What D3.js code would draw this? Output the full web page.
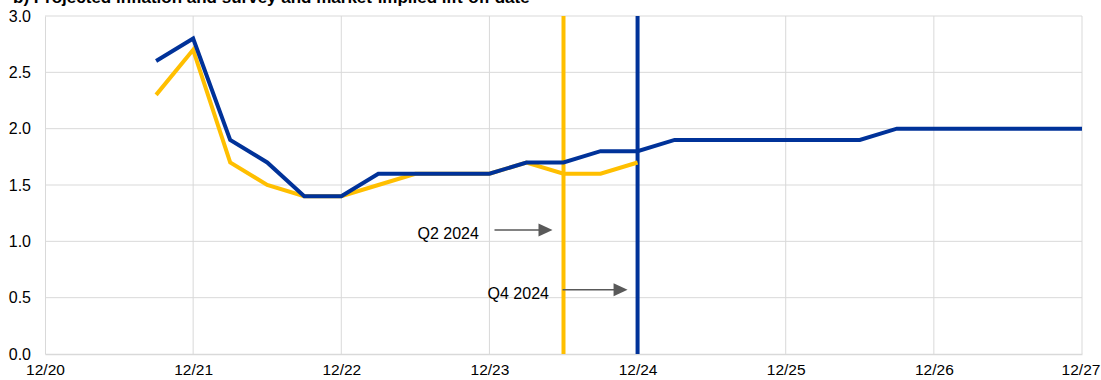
<!DOCTYPE html>
<html><head><meta charset="utf-8">
<script src="https://cdn.jsdelivr.net/npm/d3@7"></script>
<style>body{margin:0;background:#fff;} svg{display:block;font-family:Arial,"Liberation Sans",sans-serif;}</style>
</head><body>
<svg id="c" width="1101" height="380"></svg>
<script>
const title = "b) Projected inflation and survey and market-implied lift-off date";
const xTickLabels = ["12/20","12/21","12/22","12/23","12/24","12/25","12/26","12/27"];
const yTicks = [0,0.5,1,1.5,2,2.5,3];
const blueQuarters = ["Q3 2021","Q4 2021","Q1 2022","Q2 2022","Q3 2022","Q4 2022","Q1 2023","Q2 2023","Q3 2023","Q4 2023","Q1 2024","Q2 2024","Q3 2024","Q4 2024","Q1 2025","Q2 2025","Q3 2025","Q4 2025","Q1 2026","Q2 2026","Q3 2026","Q4 2026","Q1 2027","Q2 2027","Q3 2027","Q4 2027"];
const blueValues = [2.6,2.8,1.9,1.7,1.4,1.4,1.6,1.6,1.6,1.6,1.7,1.7,1.8,1.8,1.9,1.9,1.9,1.9,1.9,1.9,2.0,2.0,2.0,2.0,2.0,2.0];
const yellowQuarters = ["Q3 2021","Q4 2021","Q1 2022","Q2 2022","Q3 2022","Q4 2022","Q1 2023","Q2 2023","Q3 2023","Q4 2023","Q1 2024","Q2 2024","Q3 2024","Q4 2024"];
const yellowValues = [2.3,2.7,1.7,1.5,1.4,1.4,1.5,1.6,1.6,1.6,1.7,1.6,1.6,1.7];
const liftoffs = [{label:"Q2 2024", q:"Q2 2024", color:"#ffbf00"},{label:"Q4 2024", q:"Q4 2024", color:"#003299"}];

const qi = s => { const [q,y] = s.split(" "); return (+y-2020)*4 + (+q[1]) - 4; };

const svg = d3.select("#c");
const m = {l:45, r:1082, t:16, b:354};
const x = d3.scaleLinear().domain([0,28]).range([m.l,m.r]);
const y = d3.scaleLinear().domain([0,3]).range([m.b,m.t]);

// grid
svg.append("g").selectAll("line").data(yTicks.filter(d=>d>0)).join("line")
  .attr("x1",m.l).attr("x2",m.r).attr("y1",d=>y(d)).attr("y2",d=>y(d))
  .attr("stroke","#d9d9d9").attr("stroke-width",1);
svg.append("g").selectAll("line").data(d3.range(1,8)).join("line")
  .attr("x1",d=>x(d*4)).attr("x2",d=>x(d*4)).attr("y1",m.t).attr("y2",m.b)
  .attr("stroke","#d9d9d9").attr("stroke-width",1);

// axes
const yAxis = d3.axisLeft(y).tickValues(yTicks).tickFormat(d3.format(".1f")).tickSize(0).tickPadding(14);
const gy = svg.append("g").attr("transform",`translate(${m.l},0)`).call(yAxis);
gy.select(".domain").attr("stroke","#d9d9d9");
gy.selectAll("text").attr("font-size",16).attr("fill","#000").attr("font-family","Arial, Liberation Sans, sans-serif");

const xAxis = d3.axisBottom(x).tickValues(d3.range(0,8).map(i=>i*4)).tickFormat((d,i)=>xTickLabels[i]).tickSize(0).tickPadding(10);
const gx = svg.append("g").attr("transform",`translate(0,${m.b})`).call(xAxis);
gx.select(".domain").attr("stroke","#d9d9d9").attr("stroke-width",1.5);
gx.selectAll("text").attr("font-size",15.5).attr("fill","#000").attr("font-family","Arial, Liberation Sans, sans-serif")
  .attr("dx",(d,i)=> i===7 ? -1.5 : 0);

// lift-off vertical lines
svg.append("g").selectAll("line").data(liftoffs).join("line")
  .attr("x1",d=>x(qi(d.q))).attr("x2",d=>x(qi(d.q))).attr("y1",m.t).attr("y2",m.b)
  .attr("stroke",d=>d.color).attr("stroke-width",4);

// series
const line = d3.line().x(d=>x(d[0])).y(d=>y(d[1]));
svg.append("path").datum(yellowQuarters.map((q,i)=>[qi(q),yellowValues[i]]))
  .attr("d",line).attr("fill","none").attr("stroke","#ffbf00").attr("stroke-width",4).attr("stroke-linejoin","miter");
svg.append("path").datum(blueQuarters.map((q,i)=>[qi(q),blueValues[i]]))
  .attr("d",line).attr("fill","none").attr("stroke","#003299").attr("stroke-width",4).attr("stroke-linejoin","miter");

// annotations
const ann = [{text:"Q2 2024", q:"Q2 2024", v:1.1, tx:-146, ax0:-69, ax1:-11},
             {text:"Q4 2024", q:"Q4 2024", v:0.57, tx:-150, ax0:-75, ax1:-10}];
ann.forEach(a=>{
  const cx = x(qi(a.q)), cy = y(a.v);
  svg.append("line").attr("x1",cx+a.ax0).attr("x2",cx+a.ax1-12).attr("y1",cy).attr("y2",cy)
    .attr("stroke","#595959").attr("stroke-width",1.5);
  svg.append("path").attr("d",`M${cx+a.ax1},${cy}L${cx+a.ax1-14},${cy-6.5}L${cx+a.ax1-14},${cy+6.5}Z`).attr("fill","#595959");
  svg.append("text").attr("x",cx+a.tx).attr("y",cy+9).attr("font-size",16).attr("fill","#000").text(a.text);
});

// title (partly cut at the top edge, as in the reference)
svg.append("text").attr("x",13).attr("y",3).attr("font-size",17).attr("font-weight","bold").attr("fill","#000").text(title);
</script>
</body></html>
